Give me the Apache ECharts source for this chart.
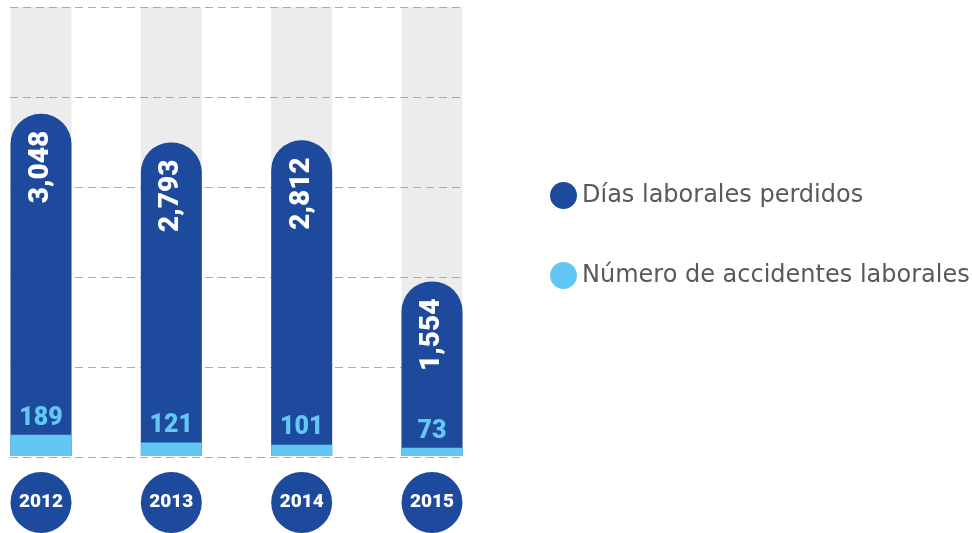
<!DOCTYPE html>
<html>
<head>
<meta charset="utf-8">
<script src="https://cdn.jsdelivr.net/npm/echarts@6/dist/echarts.min.js"></script>
<style>html,body{margin:0;padding:0;background:#fff}#c{width:972px;height:533px}</style>
</head>
<body>
<div id="c"></div>
<script>
const years = ['2012', '2013', '2014', '2015'];
const diasPerdidos = [3048, 2793, 2812, 1554];
const accidentes = [189, 121, 101, 73];
const yTicks = [0, 800, 1600, 2400, 3200, 4000];
const seriesNames = ['Días laborales perdidos', 'Número de accidentes laborales'];

const yMax = yTicks[yTicks.length - 1];
const yStep = yTicks[1] - yTicks[0];
const DARK = '#1d4a9d', LIGHT = '#63c7f3', GREY = '#ececec';

const chart = echarts.init(document.getElementById('c'));
chart.setOption({
  animation: false,
  legend: {
    orient: 'vertical', left: 545, top: 177,
    itemWidth: 27, itemHeight: 27, itemGap: 53,
    icon: 'circle',
    data: seriesNames,
    textStyle: { fontFamily: 'DejaVu Sans', fontSize: 24, color: '#58595b', padding: [0, 0, 0, 0] }
  },
  grid: [
    { left: 41, width: 391, top: 7, height: 450 },
    { left: 10, width: 453, top: 7, height: 450 }
  ],
  xAxis: [
    {
      type: 'category', gridIndex: 0, data: years, boundaryGap: false,
      axisLine: { show: false }, axisTick: { show: false },
      axisLabel: {
        margin: 16,
        formatter: v => '{c|' + v + '}',
        rich: {
          c: {
            width: 61, height: 61, lineHeight: 61, borderRadius: 31,
            backgroundColor: DARK, color: '#fff', align: 'center',
            fontFamily: 'Roboto', fontWeight: 900, fontSize: 19
          }
        }
      }
    },
    { type: 'value', gridIndex: 1, show: false, min: 0, max: 1 }
  ],
  yAxis: [
    { type: 'value', gridIndex: 0, min: 0, max: yMax, interval: yStep, show: false, splitLine: { show: false } },
    {
      type: 'value', gridIndex: 1, min: 0, max: yMax, interval: yStep, z: 2,
      axisLine: { show: false }, axisTick: { show: false }, axisLabel: { show: false },
      splitLine: { show: true, lineStyle: { type: [8, 5], color: '#aaaaaa', width: 1 } }
    }
  ],
  series: [
    {
      type: 'bar', name: 'bg', xAxisIndex: 0, yAxisIndex: 0, z: 1, silent: true, clip: false,
      barWidth: 61, barGap: '-100%',
      data: years.map(() => yMax),
      itemStyle: { color: GREY }
    },
    {
      type: 'bar', name: seriesNames[0], xAxisIndex: 0, yAxisIndex: 0, z: 3, clip: false,
      barWidth: 61, barGap: '-100%',
      data: diasPerdidos,
      itemStyle: { color: DARK, borderRadius: [30, 30, 0, 0] },
      label: {
        show: true, position: 'insideTop', distance: 17, rotate: 90,
        align: 'right', verticalAlign: 'middle',
        formatter: p => p.value.toLocaleString('en-US'),
        color: '#fff', fontFamily: 'Roboto', fontWeight: 900, fontSize: 28
      }
    },
    {
      type: 'bar', name: seriesNames[1], xAxisIndex: 0, yAxisIndex: 0, z: 4, clip: false,
      barWidth: 61, barGap: '-100%',
      data: accidentes,
      itemStyle: { color: LIGHT },
      label: {
        show: true, position: 'top', distance: 4,
        color: LIGHT, fontFamily: 'Roboto', fontWeight: 900, fontSize: 25
      }
    }
  ]
});
</script>
</body>
</html>
